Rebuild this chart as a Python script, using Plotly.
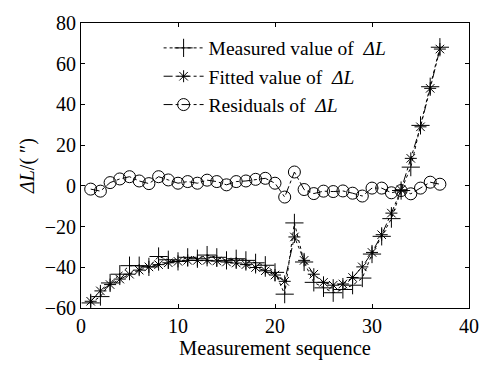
import plotly.graph_objects as go

seq = list(range(1, 38))
measured = [-57.5, -54.4, -47.7, -43.4, -39.2, -39.2, -39.8, -34.7, -36.3, -37.1,
            -35.1, -35.8, -34.0, -35.1, -36.6, -35.8, -36.6, -37.8, -39.0, -42.5,
            -53.2, -18.2, -37.4, -47.4, -50.1, -52.5, -50.9, -48.8, -45.3, -33.5,
            -24.8, -16.1, -2.3, 9.2, 29.7, 48.7, 68.1]
fitted = [-56.7, -51.6, -48.5, -45.8, -43.4, -41.4, -39.8, -38.7, -37.8, -37.1,
          -36.6, -36.6, -36.6, -36.9, -37.4, -37.9, -38.7, -40.1, -41.7, -43.8,
          -46.9, -25.1, -36.6, -43.4, -47.4, -48.8, -48.2, -45.0, -39.8, -32.7,
          -24.0, -13.4, -1.9, 13.5, 29.0, 47.9, 67.2]
residuals = [-1.6, -2.6, 1.6, 3.4, 4.5, 2.4, 1.1, 4.5, 2.9, 1.3,
             2.1, 1.3, 2.8, 2.1, 0.5, 2.1, 2.4, 3.2, 3.7, 1.3,
             -5.5, 6.8, -1.8, -3.8, -2.6, -2.8, -2.5, -3.6, -5.0, -1.1,
             -1.1, -3.4, -2.3, -3.9, -1.1, 1.8, 0.8]

xticks = [0, 10, 20, 30, 40]
yticks = [-60, -40, -20, 0, 20, 40, 60, 80]

FONT = "Liberation Serif, Times New Roman, serif"

fig = go.Figure()
fig.add_trace(go.Scatter(
    x=seq, y=measured, mode="lines+markers",
    name="Measured value of\u00a0\u00a0<i>ΔL</i>",
    line=dict(color="black", width=1, dash="dot"),
    marker=dict(symbol="cross-thin-open", size=13, color="black",
                line=dict(color="black", width=1)),
))
fig.add_trace(go.Scatter(
    x=seq, y=fitted, mode="lines+markers",
    name="Fitted value of\u00a0\u00a0<i>ΔL</i>",
    line=dict(color="black", width=1, dash="dashdot"),
    marker=dict(symbol="asterisk-open", size=10, color="black",
                line=dict(color="black", width=1)),
))
fig.add_trace(go.Scatter(
    x=seq, y=residuals, mode="lines+markers",
    name="Residuals of\u00a0\u00a0<i>ΔL</i>",
    line=dict(color="black", width=1, dash="dashdot"),
    marker=dict(symbol="circle-open", size=12, color="black",
                line=dict(color="black", width=1)),
))

axis_common = dict(
    showline=True, linecolor="black", linewidth=1, mirror="ticks",
    ticks="inside", ticklen=4, tickcolor="black", tickwidth=1,
    showgrid=False, zeroline=False,
    tickfont=dict(family=FONT, size=20, color="black"),
)

fig.update_layout(
    width=491, height=365,
    margin=dict(l=81, r=22, t=16, b=54),
    paper_bgcolor="white", plot_bgcolor="white",
    font=dict(family=FONT, size=20, color="black"),
    showlegend=True,
    legend=dict(x=0.2, y=0.98, xanchor="left", yanchor="top",
                bgcolor="rgba(0,0,0,0)", borderwidth=0,
                font=dict(family=FONT, size=19.5, color="black"),
                tracegroupgap=0, itemwidth=40),
    xaxis=dict(range=[0, 40], tickvals=xticks, ticktext=[str(v) for v in xticks],
               title=dict(text="Measurement sequence", standoff=2,
                          font=dict(family=FONT, size=20.5, color="black")),
               **axis_common),
    yaxis=dict(range=[-60, 80], tickvals=yticks,
               ticktext=[("\u2212" + str(-v)) if v < 0 else str(v) for v in yticks],
               title=dict(text="<i>ΔL</i>/(\u00a0\u2033)", standoff=4,
                          font=dict(family=FONT, size=20, color="black")),
               **axis_common),
)

fig.write_html("out.html")
